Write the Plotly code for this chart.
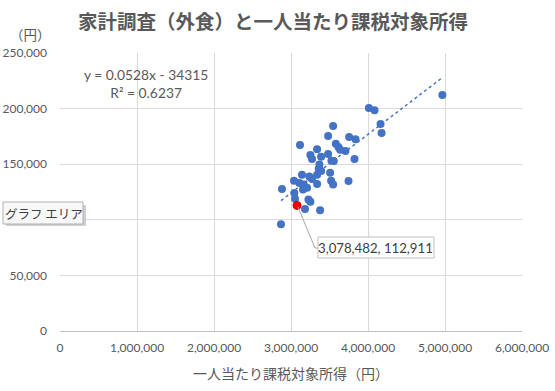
import plotly.graph_objects as go

# Data
income = [4966000, 4011000, 4085000, 4163000, 4176000, 3547000, 3482000, 3117000, 3755000, 3838000,
          3582000, 3616000, 3638000, 3707000, 3339000, 3252000, 3273000, 3391000, 3482000, 3525000,
          3556000, 3825000, 3369000, 3360000, 3391000, 3339000, 3508000, 3143000, 3239000, 3273000,
          3039000, 3109000, 3165000, 3208000, 3156000, 3339000, 3521000, 3547000, 3747000, 2883000,
          3043000, 3052000, 3226000, 3252000, 3182000, 3378000, 2870000]
eating_out = [212300, 200600, 198500, 186200, 178100, 184400, 175400, 167300, 174500, 172400,
              168500, 165500, 163100, 161900, 163400, 158300, 154700, 156800, 159200, 153200,
              152900, 154700, 149800, 145900, 143800, 140500, 142300, 140500, 139000, 136600,
              135100, 133000, 131800, 128800, 127300, 132100, 135100, 131800, 134800, 127600,
              124000, 118900, 118300, 116200, 109600, 108700, 96100]
selected_x = [3078482]
selected_y = [112911]
trend_slope = 0.0528
trend_intercept = -34315
r_squared = 0.6237

x_ticks = [0, 1000000, 2000000, 3000000, 4000000, 5000000, 6000000]
y_ticks = [0, 50000, 100000, 150000, 200000, 250000]

JP = "Noto Sans CJK JP, sans-serif"
NUM = "Lato, Noto Sans CJK JP, sans-serif"
GREY = "#595959"

# plot area in pixels
L, R, T, B = 60, 522, 53, 331
W, H = R - L, B - T
def px(x): return (x - L) / W
def py(y): return (B - y) / H

all_x = income + selected_x
tx = [min(all_x), max(all_x)]
ty = [trend_slope * v + trend_intercept for v in tx]

fig = go.Figure()
fig.add_trace(go.Scatter(x=income, y=eating_out, mode="markers",
                         marker=dict(color="#4472C4", size=8), showlegend=False))
fig.add_trace(go.Scatter(x=tx, y=ty, mode="lines",
                         line=dict(color="#4472C4", width=1.5, dash="dot"), showlegend=False))
fig.add_trace(go.Scatter(x=selected_x, y=selected_y, mode="markers",
                         marker=dict(color="#FF0000", size=8, line=dict(color="#C00000", width=1)),
                         showlegend=False))

fig.update_layout(
    width=555, height=391,
    margin=dict(l=L, r=555 - R, t=T, b=391 - B, autoexpand=False),
    paper_bgcolor="white", plot_bgcolor="white",
    font=dict(family=NUM, color=GREY, size=12),
    title=dict(text="<b>家計調査（外食）と一人当たり課税対象所得</b>", x=273 / 555, xanchor="center",
               y=1 - 22 / 391, yanchor="middle", font=dict(size=19.5, color=GREY, family=JP)),
    xaxis=dict(range=[0, 6000000], tickvals=x_ticks, tickformat=",d",
               showgrid=True, gridcolor="#D9D9D9", gridwidth=1, automargin=False,
               showline=True, linecolor="#BFBFBF", zeroline=False, ticks="",
               ticklabelstandoff=6,
               tickfont=dict(size=12, color=GREY, family=NUM),
               title=dict(text="一人当たり課税対象所得（円）", font=dict(size=14, color=GREY, family=JP), standoff=14)),
    yaxis=dict(range=[0, 250000], tickvals=y_ticks, tickformat=",d",
               showgrid=True, gridcolor="#D9D9D9", gridwidth=1, automargin=False,
               showline=False, zeroline=False, ticks="",
               ticklabelstandoff=12,
               tickfont=dict(size=12, color=GREY, family=NUM)),
)

# equation text
fig.add_annotation(x=px(146), y=py(83.5), xref="paper", yref="paper", xanchor="center", yanchor="middle",
                   showarrow=False,
                   text=f"y = {trend_slope}x - {abs(trend_intercept)}<br>R² = {r_squared}",
                   font=dict(size=13.8, color=GREY, family=NUM), align="center")
# (円)
fig.add_annotation(x=px(30), y=py(34), xref="paper", yref="paper", xanchor="center", yanchor="middle",
                   showarrow=False, text="（円）", font=dict(size=13.5, color=GREY, family=JP))

# data label with leader line
lx = selected_x[0]
ly = selected_y[0]
fig.add_shape(type="line", xref="paper", yref="paper", x0=px(298), y0=py(207), x1=px(315), y1=py(248),
              line=dict(color="#A6A6A6", width=1))
fig.add_shape(type="line", xref="paper", yref="paper", x0=px(315), y0=py(248), x1=px(318), y1=py(248),
              line=dict(color="#A6A6A6", width=1))
fig.add_shape(type="rect", xref="paper", yref="paper", x0=px(318), x1=px(434), y0=py(258), y1=py(237),
              line=dict(color="#BFBFBF", width=1), fillcolor="white", layer="above")
fig.add_annotation(x=px(375), y=py(247.5), xref="paper", yref="paper", xanchor="center", yanchor="middle",
                   showarrow=False, text=f"{lx:,}, {ly:,}",
                   font=dict(size=13.2, color="#404040", family=NUM))

# Excel tooltip "グラフ エリア"
fig.add_shape(type="rect", xref="paper", yref="paper", x0=px(6), x1=px(86), y0=py(226), y1=py(205),
              line=dict(width=0), fillcolor="#CFCFCF", layer="above")
fig.add_shape(type="rect", xref="paper", yref="paper", x0=px(3), x1=px(83), y0=py(224), y1=py(202),
              line=dict(color="#B0B0B0", width=1), fillcolor="#F8F8F8", layer="above")
fig.add_annotation(x=px(43.5), y=py(213), xref="paper", yref="paper", xanchor="center", yanchor="middle",
                   showarrow=False, text="グラフ エリア", font=dict(size=12.5, color="#404040", family=JP))

fig.write_html("out.html", config={"displayModeBar": False},
               post_script="document.body.style.margin='0';document.body.style.overflow='hidden';")
